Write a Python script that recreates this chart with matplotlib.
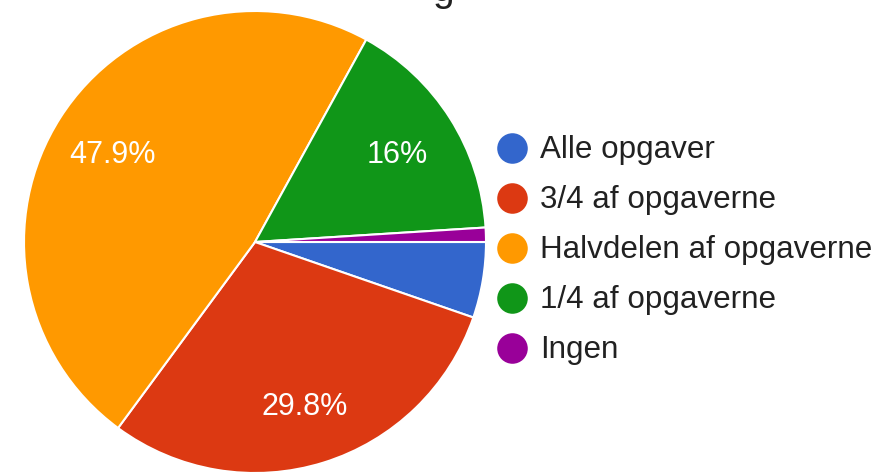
import matplotlib
matplotlib.use("Agg")
import matplotlib.pyplot as plt
from matplotlib.lines import Line2D

categories = ["Alle opgaver", "3/4 af opgaverne", "Halvdelen af opgaverne",
              "1/4 af opgaverne", "Ingen"]
values = [5.3, 29.8, 47.9, 16.0, 1.0]
colors = ["#3366CC", "#DC3912", "#FF9900", "#109618", "#990099"]

plt.rcParams['font.family'] = ['Liberation Sans', 'DejaVu Sans']

W, H = 877, 475
fig = plt.figure(figsize=(W / 100, H / 100), dpi=100)

cx, cy, r = 255, 242, 231
ax = fig.add_axes([(cx - r) / W, (H - cy - r) / H, 2 * r / W, 2 * r / H])


def fmt(p):
    if p < 10:
        return ""
    s = f"{p:.1f}"
    if s.endswith(".0"):
        s = s[:-2]
    return s + "%"


wedges, texts, autotexts = ax.pie(
    values, colors=colors, startangle=0, counterclock=False,
    autopct=fmt, pctdistance=0.73,
    wedgeprops=dict(edgecolor="white", linewidth=1.5),
    textprops=dict(color="white", fontsize=22))
for t in autotexts:
    x, y = t.get_position()
    t.set_position((x, y - 0.05))
    t.set_va("baseline")
ax.set_xlim(-1, 1)
ax.set_ylim(-1, 1)
ax.set_aspect("equal")
ax.axis("off")

# cut-off title fragment at the top
fig.text(443 / W, 1 - 1 / H, "g", fontsize=28, color="#212121",
         ha="center", va="baseline")

# legend drawn manually
ys = [148, 198, 248, 298, 348]
for lab, col, y in zip(categories, colors, ys):
    fig.add_artist(Line2D([512 / W], [1 - y / H], marker="o", markersize=22,
                          color=col, markeredgewidth=0,
                          transform=fig.transFigure))
    fig.text(540 / W, 1 - (y + 10) / H, lab, fontsize=22.6, color="#212121",
             ha="left", va="baseline")

fig.savefig("out.png", dpi=100, facecolor="white")
